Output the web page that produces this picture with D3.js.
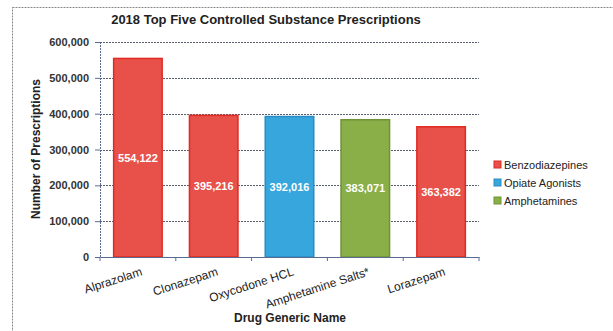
<!DOCTYPE html>
<html>
<head>
<meta charset="utf-8">
<script src="https://cdn.jsdelivr.net/npm/d3@7"></script>
<style>
  body { margin: 0; background: #fff; }
  text { font-family: "Liberation Sans", Arial, sans-serif; }
</style>
</head>
<body>
<div id="chart"></div>
<script>
var drugs = ["Alprazolam", "Clonazepam", "Oxycodone HCL", "Amphetamine Salts*", "Lorazepam"];
var counts = [554122, 395216, 392016, 383071, 363382];
var classes = ["Benzodiazepines", "Benzodiazepines", "Opiate Agonists", "Amphetamines", "Benzodiazepines"];
var legendNames = ["Benzodiazepines", "Opiate Agonists", "Amphetamines"];
var yTicks = [0, 100000, 200000, 300000, 400000, 500000, 600000];

var width = 613, height = 331;
var plot = {left: 100, right: 479, top: 42, bottom: 257};

var svg = d3.select("#chart").append("svg")
    .attr("width", width)
    .attr("height", height);

// outer frame
svg.append("rect")
    .attr("x", 12.5).attr("y", 7.5)
    .attr("width", 640).attr("height", 400)
    .attr("fill", "none")
    .attr("stroke", "#888")
    .attr("stroke-dasharray", "2,1");

var color = d3.scaleOrdinal()
    .domain(legendNames)
    .range(["#e8504a", "#36a6dc", "#8aae48"]);
var stroke = d3.scaleOrdinal()
    .domain(legendNames)
    .range(["#e02a22", "#2a8cc4", "#6f9236"]);

var x = d3.scaleBand()
    .domain(drugs)
    .range([plot.left, plot.right])
    .paddingInner(0.36)
    .paddingOuter(0.18);

var y = d3.scaleLinear()
    .domain([0, 600000])
    .range([plot.bottom, plot.top]);

// gridlines
svg.append("g").selectAll("line")
    .data(yTicks.slice(1))
  .enter().append("line")
    .attr("x1", plot.left).attr("x2", plot.right)
    .attr("y1", function(d) { return Math.round(y(d)) + 0.5; })
    .attr("y2", function(d) { return Math.round(y(d)) + 0.5; })
    .attr("stroke", "#5a6070")
    .attr("stroke-dasharray", "2,1");

// bars
var data = drugs.map(function(d, i) { return {name: d, value: counts[i], cls: classes[i]}; });

svg.selectAll(".bar")
    .data(data)
  .enter().append("rect")
    .attr("class", "bar")
    .attr("x", function(d) { return x(d.name); })
    .attr("y", function(d) { return y(d.value); })
    .attr("width", x.bandwidth())
    .attr("height", function(d) { return y(0) - y(d.value); })
    .attr("fill", function(d) { return color(d.cls); })
    .attr("stroke", function(d) { return stroke(d.cls); })
    .attr("stroke-width", 1.5);

// value labels
svg.selectAll(".val")
    .data(data)
  .enter().append("text")
    .attr("class", "val")
    .attr("x", function(d) { return x(d.name) + x.bandwidth() / 2; })
    .attr("y", function(d) { return (y(d.value) + y(0)) / 2; })
    .attr("dy", "0.35em")
    .attr("text-anchor", "middle")
    .attr("fill", "#fff")
    .style("font-size", "11px")
    .style("font-weight", "bold")
    .text(function(d) { return d3.format(",")(d.value); });

// y axis
var yAxis = svg.append("g")
    .attr("transform", "translate(" + plot.left + ",0)")
    .call(d3.axisLeft(y).tickValues(yTicks).tickFormat(d3.format(",")).tickSize(5).tickPadding(6));
yAxis.select(".domain").attr("stroke", "#5a6a90").attr("stroke-dasharray", "2,1");
yAxis.selectAll(".tick line").attr("stroke", "#5a6a90");
yAxis.selectAll("text")
    .attr("fill", "#333")
    .style("font-size", "11px")
    .style("font-weight", "bold");

// x axis
var xAxis = svg.append("g")
    .attr("transform", "translate(0," + plot.bottom + ")")
    .call(d3.axisBottom(x).tickSize(0).tickFormat(""));
xAxis.select(".domain").attr("stroke", "#5a6a90");
xAxis.selectAll(".sep")
    .data(drugs.map(function(d) { return x(d) - x.step() * x.paddingInner() / 2; }).concat([plot.right]))
  .enter().append("line")
    .attr("class", "sep")
    .attr("x1", function(d) { return d; }).attr("x2", function(d) { return d; })
    .attr("y1", 0).attr("y2", 4)
    .attr("stroke", "#5a6a90");

svg.selectAll(".xlab")
    .data(drugs)
  .enter().append("text")
    .attr("class", "xlab")
    .attr("text-anchor", "end")
    .attr("transform", function(d) {
      return "translate(" + (x(d) + x.bandwidth() / 2 + 5) + "," + (plot.bottom + 18) + ")rotate(-18)";
    })
    .attr("fill", "#222")
    .style("font-size", "12px")
    .text(function(d) { return d; });

// titles
svg.append("text")
    .attr("x", 266).attr("y", 24)
    .attr("text-anchor", "middle")
    .attr("fill", "#222")
    .style("font-size", "13px")
    .style("font-weight", "bold")
    .text("2018 Top Five Controlled Substance Prescriptions");

svg.append("text")
    .attr("x", 290).attr("y", 322)
    .attr("text-anchor", "middle")
    .attr("fill", "#222")
    .style("font-size", "12px")
    .style("font-weight", "bold")
    .text("Drug Generic Name");

svg.append("text")
    .attr("transform", "translate(40,149)rotate(-90)")
    .attr("text-anchor", "middle")
    .attr("fill", "#222")
    .style("font-family", "'Liberation Sans Narrow', 'Arial Narrow', sans-serif")
    .style("font-size", "12px")
    .style("font-weight", "bold")
    .text("Number of Prescriptions");

// legend
var legend = svg.selectAll(".legend")
    .data(legendNames)
  .enter().append("g")
    .attr("class", "legend")
    .attr("transform", function(d, i) { return "translate(494," + (165 + i * 18) + ")"; });

legend.append("rect")
    .attr("x", 0).attr("y", -4)
    .attr("width", 7).attr("height", 7)
    .attr("fill", color)
    .attr("stroke", stroke);

legend.append("text")
    .attr("x", 10)
    .attr("dy", "0.35em")
    .attr("fill", "#222")
    .style("font-size", "11px")
    .text(function(d) { return d; });
</script>
</body>
</html>
